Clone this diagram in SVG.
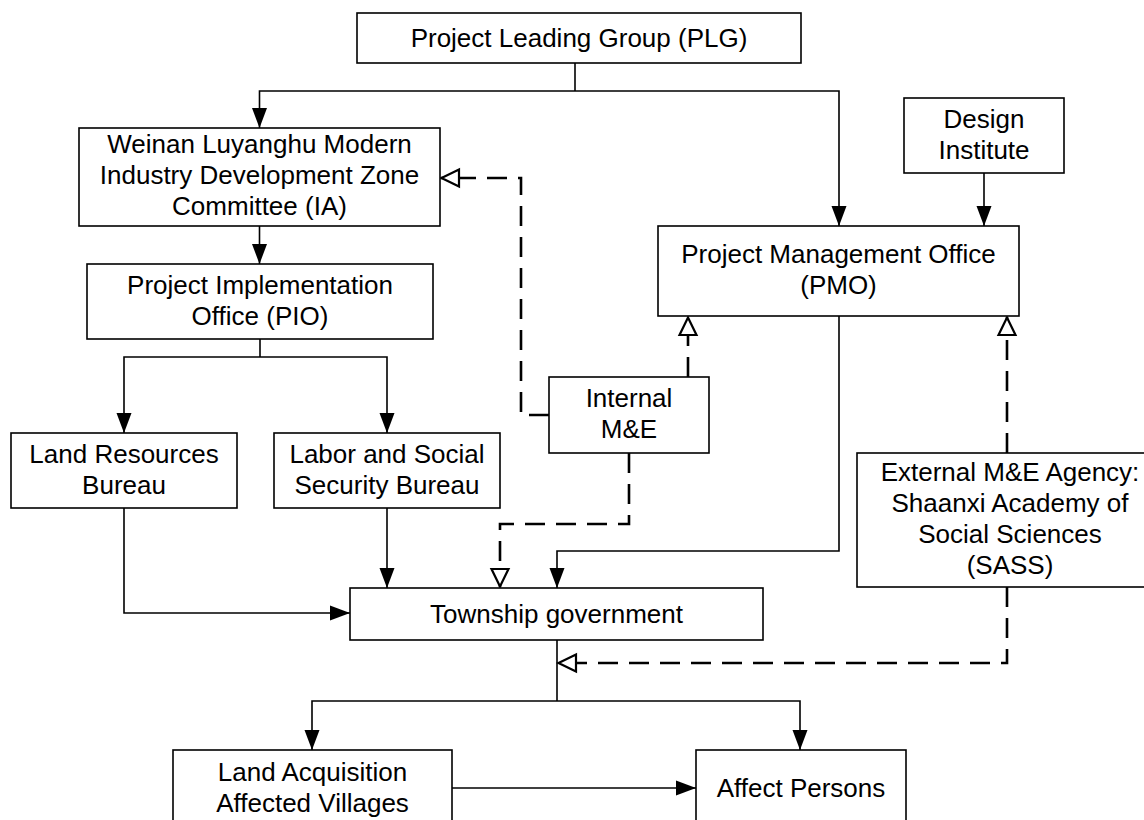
<svg xmlns="http://www.w3.org/2000/svg" width="1144" height="820" viewBox="0 0 1144 820">
  <defs>
    <style>
      .box { fill: #ffffff; stroke: #000000; stroke-width: 1.6; }
      .lbl { font-family: "Liberation Sans", Arial, sans-serif; font-size: 26px; fill: #000000; text-anchor: middle; }
      .solid { fill: none; stroke: #000000; stroke-width: 1.6; }
      .dash { fill: none; stroke: #000000; stroke-width: 2.6; stroke-dasharray: 20 11; }
    </style>
    <marker id="arr" markerUnits="userSpaceOnUse" markerWidth="24" markerHeight="18" refX="20" refY="7.5" orient="auto" overflow="visible">
      <path d="M0,0 L20,7.5 L0,15 Z" fill="#000000" stroke="none"/>
    </marker>
    <marker id="harr" markerUnits="userSpaceOnUse" markerWidth="24" markerHeight="22" refX="19" refY="9" orient="auto" overflow="visible">
      <path d="M1,0.5 L18.5,9 L1,17.5 Z" fill="#ffffff" stroke="#000000" stroke-width="2.2" stroke-dasharray="none"/>
    </marker>
  </defs>
  <rect width="1144" height="820" fill="#ffffff"/>

  <g id="connectors">
    <!-- PLG to IA and PMO -->
    <path class="solid" d="M575,63 V91"/>
    <path class="solid" d="M575,91 H259.5 V128" marker-end="url(#arr)"/>
    <path class="solid" d="M575,91 H839 V226" marker-end="url(#arr)"/>
    <!-- Design to PMO -->
    <path class="solid" d="M984,173 V226" marker-end="url(#arr)"/>
    <!-- IA to PIO -->
    <path class="solid" d="M259.5,226 V264" marker-end="url(#arr)"/>
    <!-- PIO to bureaus -->
    <path class="solid" d="M260,339 V357"/>
    <path class="solid" d="M260,357 H124 V433" marker-end="url(#arr)"/>
    <path class="solid" d="M260,357 H387 V433" marker-end="url(#arr)"/>
    <!-- Bureaus to Township -->
    <path class="solid" d="M124,508 V613 H350" marker-end="url(#arr)"/>
    <path class="solid" d="M387,508 V588" marker-end="url(#arr)"/>
    <!-- PMO to Township -->
    <path class="solid" d="M839,316 V551 H557 V588" marker-end="url(#arr)"/>
    <!-- Internal M&E dashed -->
    <path class="dash" d="M549,415 H521 V178 H441" marker-end="url(#harr)"/>
    <path class="dash" d="M688,377 V317" marker-end="url(#harr)"/>
    <path class="dash" d="M629,453 V524 H500 V587" marker-end="url(#harr)"/>
    <!-- External M&E dashed -->
    <path class="dash" d="M1007,453 V317" marker-end="url(#harr)"/>
    <path class="dash" d="M1007,587 V663 H558" marker-end="url(#harr)"/>
    <!-- Township to villages and persons -->
    <path class="solid" d="M557,640 V701"/>
    <path class="solid" d="M557,701 H312 V750" marker-end="url(#arr)"/>
    <path class="solid" d="M557,701 H800 V750" marker-end="url(#arr)"/>
    <!-- Villages to Persons -->
    <path class="solid" d="M452,788 H696" marker-end="url(#arr)"/>
  </g>

  <g id="plg">
    <rect class="box" x="357" y="13" width="444" height="50"/>
    <text class="lbl" x="579" y="47">Project Leading Group (PLG)</text>
  </g>

  <g id="ia">
    <rect class="box" x="79" y="128" width="361" height="98"/>
    <text class="lbl" x="259.5" y="153">Weinan Luyanghu Modern</text>
    <text class="lbl" x="259.5" y="184">Industry Development Zone</text>
    <text class="lbl" x="259.5" y="215">Committee (IA)</text>
  </g>

  <g id="pio">
    <rect class="box" x="87" y="264" width="346" height="75"/>
    <text class="lbl" x="260" y="294">Project Implementation</text>
    <text class="lbl" x="260" y="325">Office (PIO)</text>
  </g>

  <g id="design">
    <rect class="box" x="904" y="98" width="160" height="75"/>
    <text class="lbl" x="984" y="128">Design</text>
    <text class="lbl" x="984" y="159">Institute</text>
  </g>

  <g id="pmo">
    <rect class="box" x="658" y="226" width="361" height="90"/>
    <text class="lbl" x="838.5" y="263">Project Management Office</text>
    <text class="lbl" x="838.5" y="294">(PMO)</text>
  </g>

  <g id="internal-me">
    <rect class="box" x="549" y="377" width="160" height="76"/>
    <text class="lbl" x="629" y="407">Internal</text>
    <text class="lbl" x="629" y="438">M&amp;E</text>
  </g>

  <g id="land-resources">
    <rect class="box" x="11" y="433" width="226" height="75"/>
    <text class="lbl" x="124" y="463">Land Resources</text>
    <text class="lbl" x="124" y="494">Bureau</text>
  </g>

  <g id="labor">
    <rect class="box" x="274" y="433" width="226" height="75"/>
    <text class="lbl" x="387" y="463">Labor and Social</text>
    <text class="lbl" x="387" y="494">Security Bureau</text>
  </g>

  <g id="external-me">
    <rect class="box" x="857" y="453" width="305" height="134"/>
    <text class="lbl" x="1010" y="481">External M&amp;E Agency:</text>
    <text class="lbl" x="1010" y="512">Shaanxi Academy of</text>
    <text class="lbl" x="1010" y="543">Social Sciences</text>
    <text class="lbl" x="1010" y="574">(SASS)</text>
  </g>

  <g id="township">
    <rect class="box" x="350" y="588" width="413" height="52"/>
    <text class="lbl" x="556.5" y="623">Township government</text>
  </g>

  <g id="villages">
    <rect class="box" x="173" y="750" width="279" height="76"/>
    <text class="lbl" x="312.5" y="781">Land Acquisition</text>
    <text class="lbl" x="312.5" y="812">Affected Villages</text>
  </g>

  <g id="persons">
    <rect class="box" x="696" y="750" width="210" height="76"/>
    <text class="lbl" x="801" y="797">Affect Persons</text>
  </g>
</svg>
